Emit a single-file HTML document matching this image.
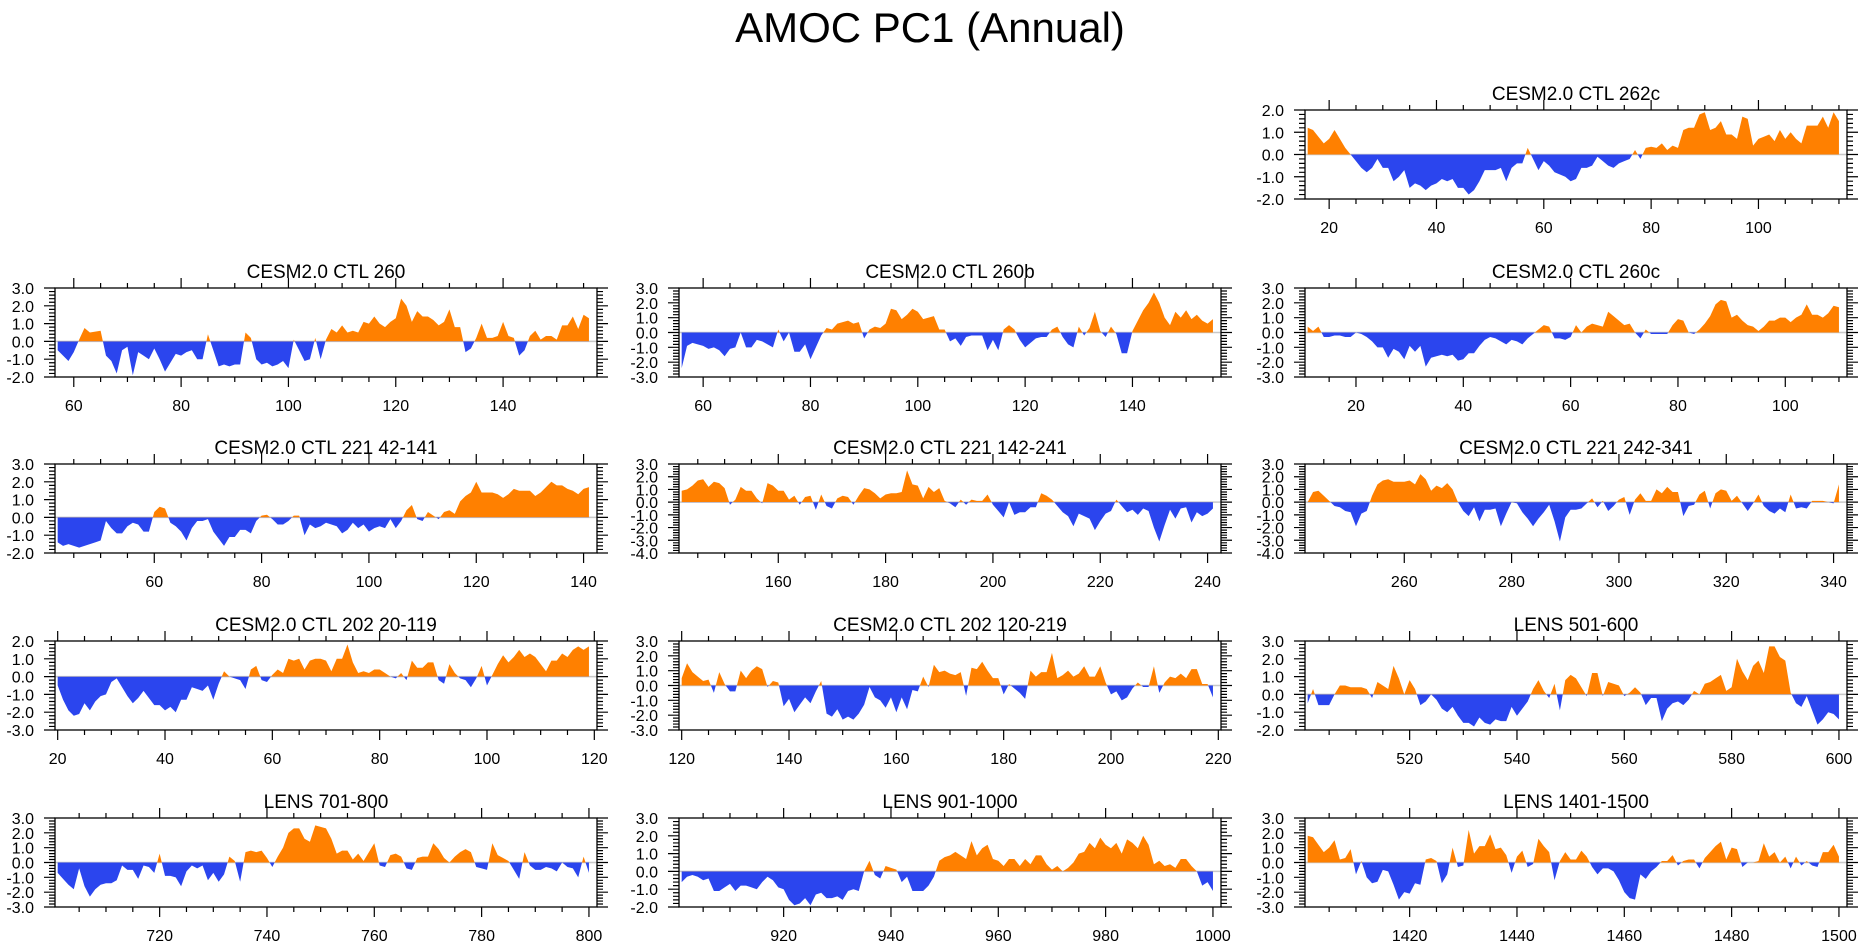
<!DOCTYPE html>
<html><head><meta charset="utf-8"><style>
html,body{margin:0;padding:0;background:#fff;}
svg{display:block;font-family:"Liberation Sans",sans-serif;}
</style></head><body>
<svg id="chart" width="1861" height="948" viewBox="0 0 1861 948" xmlns="http://www.w3.org/2000/svg">
<text x="930" y="42" font-size="42" text-anchor="middle">AMOC PC1 (Annual)</text>
</svg>
<script>
const ctl262c=[1.2,1.1,0.8,0.5,0.7,1.1,0.7,0.3,0.0,-0.3,-0.6,-0.8,-0.6,-0.2,-0.6,-0.6,-1.2,-1.0,-0.7,-1.5,-1.3,-1.4,-1.6,-1.4,-1.3,-1.1,-1.2,-1.1,-1.5,-1.5,-1.8,-1.6,-1.2,-0.7,-0.7,-0.7,-0.6,-1.2,-0.6,-0.4,-0.4,0.3,-0.2,-0.7,-0.3,-0.5,-0.8,-0.9,-1.0,-1.2,-1.1,-0.6,-0.6,-0.5,-0.1,-0.3,-0.5,-0.6,-0.4,-0.3,-0.2,0.2,-0.2,0.3,0.35,0.3,0.5,0.2,0.4,0.3,1.1,1.2,1.2,1.8,1.9,1.1,1.2,1.5,0.9,0.9,0.7,1.7,1.6,0.4,0.7,0.8,0.9,0.6,1.1,0.7,1.0,0.7,0.5,1.3,1.3,1.3,1.7,1.2,1.9,1.5];
const ctl260=[-0.5,-0.8,-1.1,-0.6,0.1,0.75,0.5,0.55,0.6,-0.8,-1.1,-1.8,-0.5,-0.3,-1.9,-0.6,-0.8,-1.0,-0.4,-1.0,-1.7,-1.2,-0.7,-0.8,-0.6,-0.5,-1.0,-1.0,0.4,-0.5,-1.4,-1.3,-1.4,-1.3,-1.3,0.5,0.2,-1.0,-1.3,-1.2,-1.4,-1.3,-1.1,-1.5,0.1,-0.5,-1.1,-1.0,0.2,-1.0,0.1,0.7,0.5,0.9,0.5,0.6,0.5,1.1,1.0,1.4,1.0,0.8,1.1,1.3,2.4,2.0,1.1,1.7,1.4,1.4,1.2,0.9,1.1,1.8,0.8,0.8,-0.6,-0.4,0.2,1.0,0.2,0.2,0.3,1.1,0.3,0.2,-0.8,-0.5,0.3,0.6,0.1,0.3,0.3,0.1,0.9,0.9,1.4,0.7,1.5,1.3];
const ctl260b=[-2.4,-0.9,-0.7,-0.8,-0.9,-1.1,-1.0,-1.2,-1.6,-1.1,-1.0,0.0,-1.0,-1.0,-0.5,-0.6,-0.8,-1.0,0.2,-0.6,0.0,-1.3,-1.3,-0.8,-1.8,-1.0,-0.2,0.3,0.2,0.6,0.7,0.8,0.6,0.7,-0.4,0.2,0.4,0.3,0.6,1.6,1.5,0.9,1.2,1.6,1.4,0.9,1.0,1.1,0.2,0.2,-0.6,-0.4,-0.9,-0.3,-0.2,-0.2,-0.2,-1.2,-0.5,-1.2,0.2,0.5,0.2,-0.5,-1.0,-0.7,-0.4,-0.3,-0.3,0.2,0.4,-0.3,-0.8,-1.0,0.4,-0.2,0.3,1.4,0.1,-0.3,0.4,-0.1,-1.4,-1.4,0.1,0.8,1.5,2.0,2.7,2.0,1.0,0.5,1.4,1.0,1.5,0.9,1.2,0.8,0.6,0.9];
const ctl260c=[0.4,0.1,0.4,-0.3,-0.3,-0.2,-0.2,-0.3,-0.3,0.0,-0.1,-0.3,-0.6,-1.0,-1.0,-1.7,-1.1,-1.3,-1.8,-0.9,-1.3,-0.9,-2.3,-1.7,-1.6,-1.5,-1.6,-1.5,-1.9,-1.8,-1.4,-1.4,-0.9,-0.5,-0.3,-0.4,-0.6,-0.8,-0.5,-0.6,-0.8,-0.4,-0.1,0.2,0.5,0.4,-0.4,-0.4,-0.5,-0.3,0.5,0.0,0.4,0.6,0.5,0.4,1.4,1.1,0.8,0.5,0.6,0.0,-0.4,0.2,-0.1,-0.1,-0.1,-0.1,0.5,0.9,0.8,0.0,-0.1,0.2,0.6,1.1,1.9,2.2,2.1,1.0,1.2,0.8,0.5,0.4,0.1,0.4,0.8,0.8,1.0,1.0,0.7,1.0,1.2,1.9,1.2,1.2,1.0,1.3,1.8,1.7];
const ctl221a=[-1.4,-1.6,-1.5,-1.6,-1.7,-1.6,-1.5,-1.4,-1.3,-0.2,-0.6,-0.9,-0.9,-0.5,-0.3,-0.4,-0.8,-0.8,0.3,0.6,0.5,-0.3,-0.5,-0.8,-1.3,-0.6,-0.2,-0.2,-0.1,-0.8,-1.2,-1.6,-1.1,-1.1,-0.7,-0.7,-0.9,-0.2,0.1,0.15,-0.1,-0.4,-0.4,-0.2,0.1,0.1,-1.0,-0.4,-0.6,-0.5,-0.3,-0.4,-0.5,-0.9,-0.7,-0.3,-0.6,-0.4,-0.8,-0.6,-0.5,-0.6,-0.1,-0.6,-0.2,0.4,0.7,-0.1,-0.2,0.3,0.1,-0.1,0.3,0.4,0.2,0.9,1.2,1.4,2.0,1.4,1.4,1.4,1.3,1.1,1.3,1.6,1.5,1.5,1.5,1.2,1.4,1.7,2.0,1.8,1.8,1.6,1.5,1.3,1.6,1.7];
const ctl221b=[0.9,1.0,1.3,1.7,1.8,1.2,1.6,1.5,1.1,-0.2,0.2,1.2,0.9,0.9,0.3,-0.1,1.5,1.3,0.9,0.9,0.2,0.5,-0.2,0.4,0.5,-0.6,0.6,-0.3,-0.5,0.3,0.5,0.4,-0.2,0.5,1.1,1.0,0.7,0.3,0.6,0.7,0.7,0.8,2.5,1.4,1.3,0.3,1.2,0.8,1.1,0.1,-0.1,-0.4,0.2,-0.2,0.2,0.1,0.1,0.6,-0.2,-0.7,-1.2,0.0,-1.0,-0.8,-0.8,-0.4,-0.4,0.7,0.5,0.2,-0.3,-0.8,-1.1,-1.9,-0.9,-1.1,-1.3,-2.2,-1.5,-0.9,-0.7,0.2,-0.3,-0.8,-0.6,-1.0,-0.5,-0.7,-2.0,-3.1,-1.8,-0.6,-1.3,-0.5,-0.4,-1.6,-0.8,-1.1,-0.9,-0.5];
const ctl221c=[0.0,0.8,0.9,0.5,0.1,-0.3,-0.4,-0.7,-0.8,-1.9,-0.9,-0.7,0.5,1.4,1.7,1.8,1.6,1.6,1.6,1.7,1.4,2.2,1.8,0.9,1.3,1.1,1.5,1.0,0.0,-0.7,-1.1,-0.4,-1.5,-0.6,-0.6,-0.5,-1.9,-0.9,0.0,-0.1,-0.8,-1.3,-1.9,-1.3,-0.8,-0.2,-1.5,-3.1,-1.2,-0.6,-0.6,-0.5,-0.1,0.3,-0.4,0.1,-0.7,-0.3,0.2,0.4,-1.0,0.2,0.7,0.1,0.1,1.0,0.7,1.2,0.8,0.8,-1.1,-0.3,-0.2,0.6,0.9,-0.5,0.7,1.0,0.9,0.1,0.5,-0.1,-0.7,-0.1,0.6,-0.3,-0.7,-0.9,-0.5,-0.8,0.6,-0.5,-0.4,-0.5,0.1,0.1,0.1,0.0,-0.1,1.4];
const ctl202a=[-0.5,-1.3,-1.9,-2.2,-2.1,-1.5,-1.9,-1.4,-1.1,-1.0,-0.3,-0.1,-0.6,-1.1,-1.5,-1.2,-0.8,-1.2,-1.6,-1.6,-1.9,-1.7,-2.0,-1.3,-1.3,-0.6,-0.7,-0.8,-0.5,-1.3,-0.4,0.3,0.0,-0.1,-0.2,-0.7,0.4,0.6,-0.2,-0.3,0.1,0.4,0.2,1.0,0.9,1.0,0.4,0.9,1.0,1.0,0.9,0.3,1.0,1.0,1.8,0.8,0.2,0.3,0.2,0.4,0.4,0.2,0.0,-0.1,0.2,-0.2,0.9,0.5,0.5,0.8,0.8,-0.2,-0.4,0.7,0.2,-0.1,-0.2,-0.6,-0.1,0.6,-0.5,0.1,0.7,1.2,0.8,1.1,1.5,1.1,1.3,1.1,0.7,0.3,0.9,0.9,1.3,1.1,1.5,1.7,1.5,1.7];
const ctl202b=[0.5,1.5,0.9,0.6,0.3,0.4,-0.5,0.9,0.1,-0.4,-0.4,1.0,0.5,1.0,1.3,1.1,-0.1,0.3,0.2,-1.4,-0.9,-1.8,-1.3,-0.8,-1.2,-0.4,0.3,-1.9,-2.1,-1.6,-2.3,-2.1,-2.3,-1.9,-1.3,-0.1,-0.8,-1.0,-1.5,-0.8,-1.8,-0.8,-1.6,-0.3,-0.4,0.6,-0.1,1.4,0.9,1.0,0.8,0.7,0.9,-0.7,1.2,1.1,1.6,1.0,0.5,0.5,-0.6,0.1,-0.2,-0.5,-0.9,1.0,0.6,0.9,0.9,2.2,0.5,0.7,1.0,0.6,0.8,1.3,0.6,0.6,1.3,0.2,-0.6,-0.4,-1.0,-0.8,-0.2,0.2,-0.1,-0.1,1.3,-0.5,0.2,0.6,0.5,0.8,0.5,1.1,1.1,0.1,0.1,-0.8];
const lens501=[-0.5,0.3,-0.6,-0.6,-0.6,0.0,0.5,0.5,0.4,0.4,0.4,0.3,-0.2,0.7,0.5,0.3,1.6,0.9,0.0,0.8,0.3,-0.6,-0.4,0.0,-0.3,-0.8,-1.0,-0.7,-1.2,-1.6,-1.6,-1.8,-1.3,-1.6,-1.7,-1.4,-1.5,-1.5,-0.7,-1.2,-0.8,-0.4,0.3,0.8,0.2,-0.2,0.6,-0.9,0.8,1.1,0.9,0.4,-0.1,1.2,1.2,-0.1,0.7,0.6,0.5,-0.1,0.1,0.4,0.1,-0.6,-0.2,-0.2,-1.5,-0.8,-0.5,-0.4,-0.6,-0.3,0.2,0.0,0.6,0.7,0.9,1.1,0.2,0.4,2.0,1.3,0.8,1.6,1.9,1.2,2.7,2.7,2.1,1.9,0.1,-0.5,-0.7,-0.1,-0.9,-1.7,-1.4,-1.0,-1.1,-1.4];
const lens701=[-0.7,-1.1,-1.5,-1.8,-0.4,-1.6,-2.3,-1.8,-1.5,-1.4,-1.4,-1.2,-0.2,-0.5,-0.5,-1.1,-0.2,-0.3,-0.7,0.6,-0.9,-0.9,-1.0,-1.6,-0.6,-0.2,-0.4,-0.2,-1.2,-0.7,-1.3,-0.8,0.4,0.1,-1.3,0.7,0.8,0.7,0.8,0.3,-0.3,0.4,1.0,2.0,2.3,2.3,1.6,1.4,2.5,2.4,2.3,1.6,0.6,0.8,0.8,0.2,0.6,0.1,0.7,1.3,-0.2,-0.3,0.5,0.6,0.4,-0.4,-0.5,0.3,0.4,0.4,1.3,0.9,0.3,0.0,0.4,0.7,0.9,0.7,-0.3,-0.4,-0.5,1.3,0.5,0.3,0.1,-0.5,-1.1,0.7,-0.2,-0.5,-0.5,-0.3,-0.4,-0.6,0.0,-0.3,-0.4,-1.0,0.4,-0.7];
const lens901=[-0.6,-0.3,-0.2,-0.3,-0.5,-0.4,-1.1,-1.1,-0.9,-0.7,-1.1,-0.8,-0.8,-0.9,-1.0,-0.6,-0.3,-0.5,-0.9,-1.0,-1.6,-1.9,-1.8,-1.5,-1.9,-1.3,-1.2,-1.5,-1.5,-1.4,-1.6,-1.1,-1.0,-1.1,0.0,0.6,-0.2,-0.4,0.3,0.2,0.1,-0.6,-0.3,-1.1,-1.1,-1.1,-0.8,-0.3,0.6,0.8,0.9,1.1,0.9,0.7,1.7,0.9,1.3,1.5,0.7,0.6,0.3,0.7,0.7,0.3,0.7,0.4,0.9,0.9,0.4,0.1,0.3,0.0,0.2,0.5,1.0,1.1,1.6,1.3,1.9,1.5,1.3,1.6,1.0,1.8,1.6,1.3,2.0,1.5,0.4,0.6,0.3,0.4,0.2,0.7,0.7,0.3,0.0,-0.8,-0.6,-1.1];
const lens1401=[1.8,1.7,1.2,0.7,1.0,1.5,0.2,0.3,0.9,-0.8,0.1,-1.0,-1.4,-1.3,-0.5,-0.6,-1.5,-2.5,-2.0,-2.1,-1.4,-1.5,0.2,0.3,0.1,-1.4,-0.8,1.0,-0.3,-0.2,2.2,0.6,1.1,1.1,1.9,0.9,1.0,0.5,-0.7,0.4,0.8,-0.3,-0.1,1.6,1.1,0.7,-1.2,0.1,0.7,0.2,0.2,0.8,0.4,-0.3,-0.8,-0.4,-0.4,-0.6,-1.2,-2.0,-2.4,-2.5,-0.8,-1.1,-0.6,-0.3,0.1,0.1,0.5,-0.2,0.1,0.2,0.2,-0.4,0.3,0.7,1.1,1.4,0.2,1.0,0.9,-0.3,0.0,0.0,0.1,1.3,0.4,0.7,0.0,0.4,-0.4,0.4,-0.2,0.1,-0.2,-0.3,0.7,0.7,1.2,0.4];

const panelTitles=["CESM2.0 CTL 262c","CESM2.0 CTL 260","CESM2.0 CTL 260b","CESM2.0 CTL 260c","CESM2.0 CTL 221 42-141","CESM2.0 CTL 221 142-241","CESM2.0 CTL 221 242-341","CESM2.0 CTL 202 20-119","CESM2.0 CTL 202 120-219","LENS 501-600","LENS 701-800","LENS 901-1000","LENS 1401-1500"];
const panelSeries=[ctl262c,ctl260,ctl260b,ctl260c,ctl221a,ctl221b,ctl221c,ctl202a,ctl202b,lens501,lens701,lens901,lens1401];
const panelStartYears=[16,57,56,11,42,142,242,20,120,501,701,901,1401];
const panelYMin=[-2,-2,-3,-3,-2,-4,-4,-3,-3,-2,-3,-2,-3];
const panelYMax=[2,3,3,3,3,3,3,2,3,3,3,3,3];
const panelCol=[2,0,1,2,0,1,2,0,1,2,0,1,2];
const panelRow=[0,1,1,1,2,2,2,3,3,3,4,4,4];

const NS="http://www.w3.org/2000/svg";
const svg=document.getElementById('chart');
const colLeft=[55,679,1305], rowTop=[110,288,464,641,818], PW=542, PH=89;
function mk(tag,attrs,parent){const e=document.createElementNS(NS,tag);for(const k in attrs)e.setAttribute(k,attrs[k]);(parent||svg).appendChild(e);return e;}

panelSeries.forEach((vals,p)=>{
  const L=colLeft[panelCol[p]], T=rowTop[panelRow[p]], R=L+PW, B=T+PH;
  const start=panelStartYears[p], n=vals.length;
  const xmin=start-0.5, xmax=start+n-1+1.5;
  const ymin=panelYMin[p], ymax=panelYMax[p];
  const xs=v=>L+(v-xmin)/(xmax-xmin)*PW;
  const ys=v=>B-(v-ymin)/(ymax-ymin)*PH;
  const g=mk('g',{});
  
  
  const y0=ys(0);
  const defs=mk('defs',{},g);
  const cA=mk('clipPath',{id:'ca'+p},defs); mk('rect',{x:L,y:T,width:PW,height:y0-T},cA);
  const cB=mk('clipPath',{id:'cb'+p},defs); mk('rect',{x:L,y:y0,width:PW,height:B-y0},cB);
  const zl=mk('line',{x1:L,x2:R,y1:y0,y2:y0,stroke:'#c8c8c8','stroke-width':1.5},g);
  
  
  let d='M'+xs(start)+','+y0;
  vals.forEach((v,i)=>{d+=' L'+xs(start+i).toFixed(2)+','+ys(v).toFixed(2);});
  d+=' L'+xs(start+n-1)+','+y0+' Z';
  const pos=mk('path',{d:d,fill:'#ff8000','clip-path':'url(#ca'+p+')'},g);
  
  
  const neg=mk('path',{d:d,fill:'#2b45ee','clip-path':'url(#cb'+p+')'},g);
  
  
  const fr=mk('rect',{x:L,y:T,width:PW,height:PH,fill:'none',stroke:'#000','stroke-width':1.3},g);
  
  
  let td='';
  for(let yr=Math.ceil(xmin/5)*5; yr<=xmax; yr+=5){
    const x=xs(yr), len=(yr%20===0)?10:5;
    td+='M'+x+','+B+'v'+len+'M'+x+','+T+'v'+(-len);
    if(yr%20===0){
      const t=mk('text',{x:x,y:B+34,'font-size':16,'text-anchor':'middle'},g);
      t.textContent=String(yr);
      
      
    }
  }
  for(let k=Math.round(ymin*5); k<=Math.round(ymax*5); k++){
    const v=k/5, y=ys(v), len=(k%5===0)?11:6;
    td+='M'+L+','+y+'h'+(-len)+'M'+R+','+y+'h'+len;
    if(k%5===0){
      const t=mk('text',{x:L-21,y:y+6,'font-size':16,'text-anchor':'end'},g);
      t.textContent=v.toFixed(1);
      
      
    }
  }
  const tk=mk('path',{d:td,stroke:'#000','stroke-width':1.2,fill:'none'},g);
  
  
  const ti=mk('text',{x:L+PW/2,y:T-10,'font-size':19,'text-anchor':'middle'},g);
  ti.textContent=panelTitles[p];
  
  
});
</script>
</body></html>
